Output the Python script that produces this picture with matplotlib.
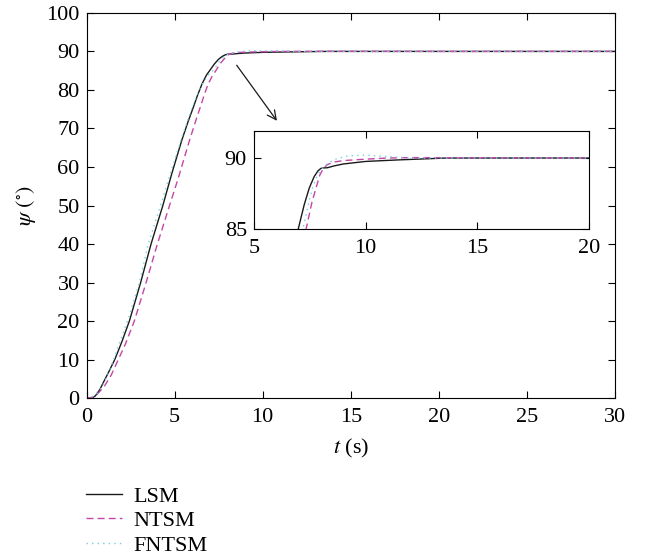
import numpy as np
import matplotlib
matplotlib.use('Agg')
import matplotlib.pyplot as plt

plt.rcParams['font.family'] = ['Liberation Serif', 'DejaVu Serif']
plt.rcParams['mathtext.fontset'] = 'stix'

# LSM (solid black)
t_lsm = [0, 0.3, 0.5, 0.75, 1.0, 1.3, 1.6, 2.0, 2.43, 3.07, 3.66, 4.33, 4.84, 5.41,
         5.75, 6.07, 6.3, 6.55, 6.8, 7.0, 7.25, 7.48, 7.7, 7.87, 8.0, 8.1, 8.3,
         8.6, 9.0, 10.0, 11.5, 13.6, 20, 30]
y_lsm = [0, 0, 0.6, 2.2, 4.5, 7.2, 10, 14.6, 20, 30, 40, 50, 58.3, 67,
         71.6, 75.6, 78.6, 81.5, 83.8, 85.1, 86.7, 87.9, 88.7, 89.1, 89.27, 89.3, 89.32,
         89.45, 89.58, 89.76, 89.87, 90, 90, 90]

# NTSM (dashed magenta)
t_ntsm = [0, 0.3, 0.6, 1.0, 1.4, 1.8, 2.2, 2.71, 3.38, 4.02, 4.71, 5.2, 5.85, 6.2,
          6.46, 6.7, 6.89, 7.1, 7.35, 7.6, 7.8, 7.95, 8.1, 8.3, 8.6, 9.0, 10.0,
          11.0, 12.0, 20, 30]
y_ntsm = [0, 0.2, 1.0, 3.0, 6.0, 10, 14, 20, 30, 40, 50, 57, 67, 72,
          75.6, 79, 81.4, 83.3, 85.1, 86.9, 88.0, 88.8, 89.25, 89.55, 89.72, 89.82, 89.92,
          90.0, 90.03, 90, 90]

# FNTSM (dotted cyan)
t_fntsm = [0, 0.3, 0.6, 1.0, 1.5, 2.0, 2.4, 3.0, 3.5, 4.2, 4.8, 5.4, 6.0, 6.5,
           6.9, 7.22, 7.45, 7.64, 7.85, 8.0, 8.2, 8.6, 9.2, 10.0, 11.0, 12.0, 20, 30]
y_fntsm = [0, 0.3, 1.3, 4.0, 9.5, 16, 21, 30, 40, 50, 59, 67.5, 75.5, 81,
           83.8, 85.2, 86.8, 88.0, 88.8, 89.15, 89.5, 89.9, 90.15, 90.2, 90.1, 90, 90, 90]

labels = ['LSM', 'NTSM', 'FNTSM']
colors = ['#1a1a1a', '#c446a8', '#74d0e0']
styles = ['-', (0, (5, 3)), (0, (1, 3))]
series = [(t_lsm, y_lsm), (t_ntsm, y_ntsm), (t_fntsm, y_fntsm)]

fs = 16
fig = plt.figure(figsize=(6.46, 5.6), dpi=100)
ax = fig.add_axes([0.134, 0.289, 0.818, 0.688])

lines = []
for (t, y), lab, c, ls in zip(series, labels, colors, styles):
    l, = ax.plot(t, y, color=c, linestyle=ls, linewidth=1.0, label=lab)
    lines.append(l)

ax.set_xlim(0, 30)
ax.set_ylim(0, 100)
ax.set_xticks(np.arange(0, 31, 5))
ax.set_yticks(np.arange(0, 101, 10))
ax.tick_params(direction='in', top=True, right=True, labelsize=fs, length=5, width=0.8)
ax.tick_params(axis='x', pad=7)
ax.tick_params(axis='y', pad=5)
for s in ax.spines.values():
    s.set_linewidth(0.8)
ax.set_xlabel(r'$t$ (s)', fontsize=fs, labelpad=7)
ax.set_ylabel(r'$\psi$ $(^{\circ})$', fontsize=fs, labelpad=6)

ax.annotate('', xy=(10.9, 71.4), xytext=(8.43, 87),
            arrowprops=dict(arrowstyle='->', color='#1a1a1a', lw=0.9, mutation_scale=16))

# inset
axin = fig.add_axes([0.393, 0.591, 0.519, 0.175])
for (t, y), c, ls in zip(series, colors, styles):
    axin.plot(t, y, color=c, linestyle=ls, linewidth=1.0)
axin.set_xlim(5, 20)
axin.set_ylim(85, 91.9)
axin.set_xticks([5, 10, 15, 20])
axin.set_yticks([85, 90])
axin.tick_params(direction='in', top=True, right=True, labelsize=fs, length=5, width=0.8)
axin.tick_params(axis='x', pad=7)
axin.tick_params(axis='y', pad=5)
for s in axin.spines.values():
    s.set_linewidth(0.8)

fig.legend(handles=lines, labels=labels, loc='upper left', bbox_to_anchor=(0.116, 0.152),
           frameon=False, fontsize=fs, handlelength=1.6, handletextpad=0.55,
           labelspacing=0.18, borderpad=0.0)

fig.savefig('out.png', dpi=100)
